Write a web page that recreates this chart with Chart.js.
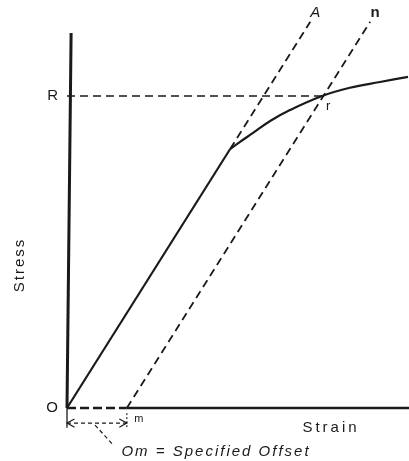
<!DOCTYPE html>
<html>
<head>
<meta charset="utf-8">
<script src="https://cdn.jsdelivr.net/npm/chart.js@4.4.1/dist/chart.umd.min.js"></script>
<style>
  html, body { margin: 0; background: #fff; }
</style>
</head>
<body>
<canvas id="stressChart" width="409" height="461"></canvas>
<script>
// stress-strain curve, arbitrary units
const elasticX = [0, 4.77];
const elasticY = [0, 7.57];
const plasticX = [4.77, 5.06, 5.44, 5.94, 6.52, 7.46, 8.27, 9.15, 9.97];
const plasticY = [7.57, 7.78, 8.04, 8.39, 8.71, 9.12, 9.36, 9.53, 9.68];
const offsetM = 1.75;   // Om
const yieldR = 9.12;    // level R
const pointR = 7.46;    // strain at r
const lineTop = 11.29;  // top of lines A and n
const axisTop = 10.96;
const axisEnd = 10;
const tickValues = [0, yieldR];
const tickLabels = ["O", "R"];

const slope = elasticY[1] / elasticX[1];
const pts = (xs, ys) => xs.map((x, i) => ({ x: x, y: ys[i] }));

const ink = "#1a1a1a";
const solid = (data, w) => ({
  data: data, borderColor: ink, borderWidth: w, pointRadius: 0,
  showLine: true, fill: false, clip: false,
});
const dashed = (data, w, dash) => ({
  ...solid(data, w), borderDash: dash,
});

// dimension line for the offset, below the axis
const dimY = -0.44;
const datasets = [
  solid([{ x: 0, y: 0 }, { x: 0.12, y: axisTop }], 3),                       // stress axis
  solid([{ x: offsetM, y: 0 }, { x: axisEnd, y: 0 }], 2.4),                  // strain axis
  dashed([{ x: 0, y: 0 }, { x: offsetM, y: 0 }], 2.4, [9, 4]),              // O..m
  solid(pts(elasticX, elasticY), 2.2),
  { ...solid(pts(plasticX, plasticY), 2.2), tension: 0.4 },
  dashed([{ x: elasticX[1], y: elasticY[1] }, { x: lineTop / slope, y: lineTop }], 1.8, [8, 5]),       // A
  dashed([{ x: offsetM, y: 0 }, { x: offsetM + lineTop / slope, y: lineTop }], 1.8, [8, 5]),         // n
  dashed([{ x: 0, y: yieldR }, { x: pointR, y: yieldR }], 1.6, [8, 5]),                             // R - r
  dashed([{ x: 0, y: dimY }, { x: offsetM, y: dimY }], 1.3, [4, 3]),
  solid([{ x: 0.22, y: dimY + 0.12 }, { x: 0, y: dimY }, { x: 0.22, y: dimY - 0.12 }], 1.2),
  solid([{ x: offsetM - 0.22, y: dimY + 0.12 }, { x: offsetM, y: dimY }, { x: offsetM - 0.22, y: dimY - 0.12 }], 1.2),
  solid([{ x: 0, y: 0.2 }, { x: 0, y: -0.58 }], 1.3),
  dashed([{ x: offsetM, y: -0.15 }, { x: offsetM, y: -0.58 }], 1.1, [2, 2]),
  dashed([{ x: 0.82, y: -0.5 }, { x: 1.35, y: -1.08 }], 1.2, [4, 3]),    // leader to note
];

// free text labels
const labelPlugin = {
  id: "labels",
  afterDatasetsDraw(chart) {
    const { ctx, scales: { x, y } } = chart;
    const px = (v) => x.getPixelForValue(v);
    const py = (v) => y.getPixelForValue(v);
    ctx.save();
    ctx.fillStyle = ink;
    ctx.textAlign = "center";
    ctx.textBaseline = "middle";
    ctx.font = 'italic 15px "Liberation Sans"';
    ctx.fillText("A", px(lineTop / slope) + 5, py(lineTop) - 9);
    ctx.font = 'bold 15px "Liberation Sans"';
    ctx.fillText("n", px(offsetM + lineTop / slope) + 5, py(lineTop) - 9);
    ctx.font = '13px "Liberation Sans"';
    ctx.fillText("r", px(pointR) + 6, py(yieldR) + 10);
    ctx.font = '11px "Liberation Sans"';
    ctx.fillText("m", px(offsetM) + 12, py(dimY) - 4);

    ctx.font = '15px "Liberation Sans"';
    ctx.letterSpacing = "3px";
    ctx.fillText("Strain", 331, py(dimY) + 5);
    ctx.save();
    ctx.translate(20, 265);
    ctx.rotate(-Math.PI / 2);
    ctx.letterSpacing = "2px";
    ctx.fillText("Stress", 0, 0);
    ctx.restore();
    ctx.font = 'italic 15px "Liberation Sans"';
    ctx.letterSpacing = "2px";
    ctx.fillText("Om = Specified Offset", 216, 452);
    ctx.restore();
  },
};

new Chart(document.getElementById("stressChart").getContext("2d"), {
  type: "scatter",
  data: { datasets: datasets },
  options: {
    responsive: false,
    animation: false,
    layout: { padding: { left: 0, right: 0, top: 14.7, bottom: 53 } },
    plugins: { legend: { display: false }, tooltip: { enabled: false } },
    scales: {
      x: { type: "linear", min: 0, max: axisEnd, display: false },
      y: {
        type: "linear", min: 0, max: 11.4,
        afterBuildTicks: (s) => { s.ticks = tickValues.map((v) => ({ value: v })); },
        afterFit: (s) => { s.width = 67; },
        grid: { display: false, drawTicks: false },
        border: { display: false },
        ticks: {
          padding: 9, color: ink,
          font: { family: "Liberation Sans", size: 15 },
          callback: (v, i) => tickLabels[i],
        },
      },
    },
  },
  plugins: [labelPlugin],
});
</script>
</body>
</html>
